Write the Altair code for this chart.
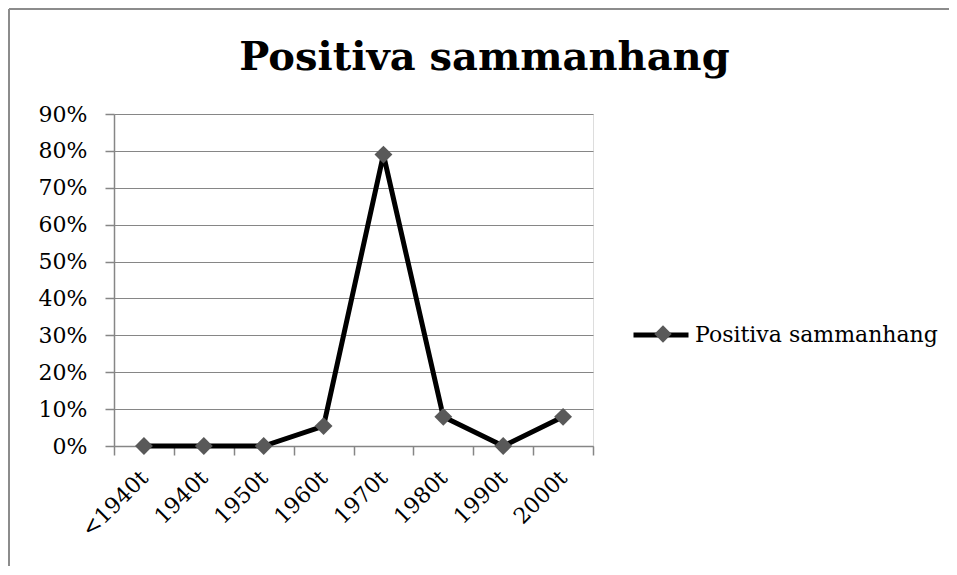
import altair as alt
import pandas as pd

categories = ["<1940t", "1940t", "1950t", "1960t", "1970t", "1980t", "1990t", "2000t"]
values = [0.0, 0.0, 0.0, 0.054, 0.79, 0.079, 0.0, 0.079]
series_name = "Positiva sammanhang"
y_ticks = [0.0, 0.1, 0.2, 0.3, 0.4, 0.5, 0.6, 0.7, 0.8, 0.9]

df = pd.DataFrame({
    "idx": list(range(len(categories))),
    "cat": categories,
    "val": values,
    "series": [series_name] * len(categories),
    "marker": [series_name] * len(categories),
})

FONT = "DejaVu Serif"
GRAY = "#868686"
W, H = 479, 332
PADL, PADT = 106, 106
TOTW, TOTH = 941, 558

label_arr = "[" + ",".join("'" + c + "'" for c in categories) + ",'']"
x_tick_vals = [i - 0.5 for i in range(len(categories) + 1)]

x = alt.X(
    "idx:Q",
    scale=alt.Scale(domain=[-0.5, len(categories) - 0.5], nice=False, zero=False),
    axis=alt.Axis(
        values=x_tick_vals,
        labelExpr=label_arr + "[round(datum.value + 0.5)]",
        labelOffset=30,
        labelAngle=-45,
        labelAlign="right",
        labelBaseline="middle",
        labelPadding=19,
        labelOverlap=False,
        labelFontSize=22,
        labelFont=FONT,
        labelColor="#000000",
        tickSize=9,
        tickColor=GRAY,
        tickWidth=1.5,
        domainColor=GRAY,
        domainWidth=1.5,
        grid=False,
        title=None,
    ),
)
y = alt.Y(
    "val:Q",
    scale=alt.Scale(domain=[0, 0.9], nice=False),
    axis=alt.Axis(
        values=y_ticks,
        format=".0%",
        labelFontSize=22,
        labelFont=FONT,
        labelColor="#000000",
        labelPadding=18,
        tickSize=9,
        tickColor=GRAY,
        tickWidth=1.5,
        domainColor=GRAY,
        domainWidth=1.5,
        gridColor=GRAY,
        gridWidth=1.2,
        title=None,
    ),
)

line = alt.Chart(df).mark_line(strokeWidth=5).encode(
    x=x,
    y=y,
    color=alt.Color(
        "series:N",
        scale=alt.Scale(domain=[series_name], range=["#000000"]),
        legend=alt.Legend(
            title=None,
            orient="none",
            legendX=517,
            legendY=191,
            symbolType="stroke",
            symbolSize=3025,
            symbolStrokeWidth=5,
            labelFont=FONT,
            labelFontSize=22,
            labelColor="#000000",
            labelOffset=4,
            labelLimit=0,
        ),
    ),
)

points = alt.Chart(df).mark_point(filled=True, shape="diamond", size=320, opacity=1, color="#595959").encode(
    x=x,
    y=y,
    shape=alt.Shape(
        "marker:N",
        scale=alt.Scale(domain=[series_name], range=["diamond"]),
        legend=alt.Legend(
            title=None,
            orient="none",
            legendX=538,
            legendY=209,
            symbolSize=300,
            symbolFillColor="#595959",
            symbolStrokeWidth=0,
            symbolOpacity=1,
            labelExpr="''",
            labelFontSize=22,
        ),
    ),
)

frame_top = alt.Chart(df).mark_rule(color="#8c8c8c", strokeWidth=2).encode(
    x=alt.value(-PADL + 1), x2=alt.value(TOTW - PADL + 8), y=alt.value(-PADT + 1)
)
frame_left = alt.Chart(df).mark_rule(color="#8c8c8c", strokeWidth=2).encode(
    x=alt.value(-PADL + 1), y=alt.value(-PADT + 1), y2=alt.value(TOTH - PADT + 8)
)

chart = alt.layer(line, points, frame_top, frame_left).resolve_legend(
    color="independent", shape="independent"
).properties(
    width=W,
    height=H,
    autosize=alt.AutoSizeParams(type="none"),
    padding={"left": PADL, "top": PADT, "right": TOTW - PADL - W, "bottom": TOTH - PADT - H},
    title=alt.TitleParams(
        text="Positiva sammanhang",
        font=FONT,
        fontSize=40,
        fontWeight="bold",
        color="#000000",
        anchor="middle",
        dx=131,
        offset=0,
        dy=70,
    ),
).configure_view(stroke=None).configure(background="white")

chart.save("out.html", embed_options={"renderer": "svg", "actions": False})
